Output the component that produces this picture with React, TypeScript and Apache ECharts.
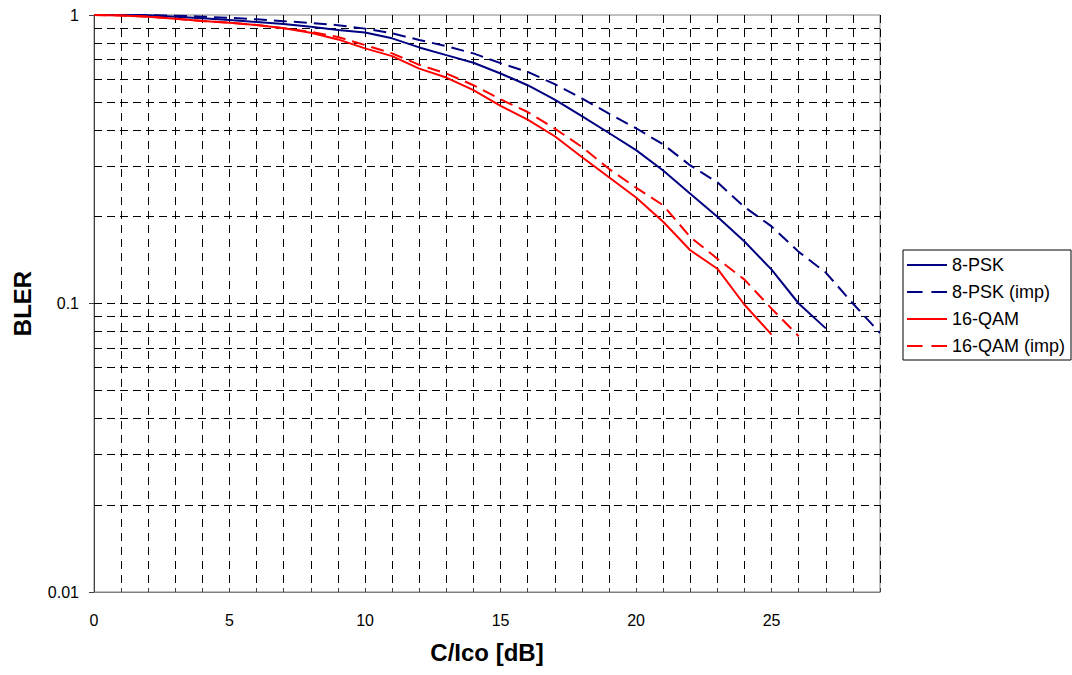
import React, { useEffect, useRef } from "react";
import * as echarts from "echarts";

const xValues = [0, 1, 2, 3, 4, 5, 6, 7, 8, 9, 10, 11, 12, 13, 14, 15, 16, 17, 18, 19, 20, 21, 22, 23, 24, 25, 26, 27, 28, 29];

const psk8 = [1.0, 1.0, 0.998, 0.987, 0.974, 0.961, 0.946, 0.93, 0.911, 0.887, 0.87, 0.83, 0.772, 0.726, 0.683, 0.627, 0.571, 0.509, 0.446, 0.39, 0.34, 0.289, 0.24, 0.2, 0.164, 0.131, 0.1, 0.082];
const psk8Imp = [1.0, 1.0, 1.0, 0.995, 0.987, 0.978, 0.966, 0.952, 0.938, 0.922, 0.897, 0.864, 0.819, 0.78, 0.736, 0.681, 0.635, 0.576, 0.514, 0.455, 0.405, 0.356, 0.301, 0.263, 0.216, 0.185, 0.151, 0.128, 0.1, 0.079];
const qam16 = [1.0, 0.997, 0.987, 0.971, 0.953, 0.94, 0.923, 0.899, 0.868, 0.823, 0.766, 0.72, 0.652, 0.607, 0.549, 0.484, 0.434, 0.38, 0.322, 0.274, 0.233, 0.192, 0.153, 0.132, 0.099, 0.078];
const qam16Imp = [1.0, 0.997, 0.987, 0.971, 0.953, 0.94, 0.923, 0.9, 0.875, 0.839, 0.787, 0.736, 0.672, 0.627, 0.571, 0.51, 0.461, 0.404, 0.349, 0.293, 0.252, 0.219, 0.17, 0.143, 0.121, 0.096, 0.077];

const seriesNames = ["8-PSK", "8-PSK (imp)", "16-QAM", "16-QAM (imp)"];
const seriesColors = ["#000080", "#000080", "#FF0000", "#FF0000"];
const seriesDashed = [false, true, false, true];
const yGridValues = [0.02, 0.03, 0.04, 0.05, 0.06, 0.07, 0.08, 0.09, 0.1, 0.2, 0.3, 0.4, 0.5, 0.6, 0.7, 0.8, 0.9];

const FONT = "'Liberation Sans', Arial, sans-serif";
const SOLID_ICON = "path://M0,0h40v2h-40z";
const DASH_ICON = "path://M0,0h14v2h-14zM22,0h14v2h-14z";

function pairs(vals: number[]) {
  return vals.map((v, i) => [xValues[i], v]);
}

export default function App() {
  const ref = useRef<HTMLDivElement>(null);
  useEffect(() => {
    if (!ref.current) return;
    const chart = echarts.init(ref.current, undefined, { renderer: "svg" });
    const allVals = [psk8, psk8Imp, qam16, qam16Imp];
    const curves = seriesNames.map((name, i) => ({
      name,
      type: "line",
      data: pairs(allVals[i]),
      symbol: "none",
      z: 5,
      lineStyle: { color: seriesColors[i], width: 2, type: seriesDashed[i] ? [13, 7] : "solid" },
      itemStyle: { color: seriesColors[i] },
    }));
    chart.setOption({
      animation: false,
      textStyle: { fontFamily: FONT },
      grid: {
        left: 94,
        top: 15,
        right: 192,
        bottom: 83,
        show: true,
        borderColor: "#808080",
        borderWidth: 1,
      },
      legend: {
        data: seriesNames.map((name, i) => ({
          name,
          icon: seriesDashed[i] ? DASH_ICON : SOLID_ICON,
          itemStyle: { color: seriesColors[i], borderWidth: 0 },
        })),
        orient: "vertical",
        left: 903,
        top: 250,
        itemWidth: 40,
        itemHeight: 18,
        itemGap: 9,
        symbolKeepAspect: true,
        padding: [6, 6, 5, 4],
        borderColor: "#000",
        borderWidth: 1,
        textStyle: { fontSize: 18, color: "#000", fontFamily: FONT },
      },
      xAxis: {
        type: "value",
        min: 0,
        max: 29,
        interval: 1,
        name: "C/Ico [dB]",
        nameLocation: "middle",
        nameGap: 48,
        nameTextStyle: { fontSize: 24, fontWeight: "bold", color: "#000", fontFamily: FONT },
        axisLine: { show: true, lineStyle: { color: "#808080" } },
        axisTick: { show: true, inside: true, length: 4, lineStyle: { color: "#404040" } },
        axisLabel: {
          fontSize: 16,
          color: "#000",
          margin: 20,
          fontFamily: FONT,
          formatter: (v: number) => (v % 5 === 0 ? String(v) : ""),
        },
        splitLine: { show: true, lineStyle: { color: "#000", type: [8, 6], width: 1 } },
      },
      yAxis: {
        type: "log",
        logBase: 10,
        min: 0.01,
        max: 1,
        name: "BLER",
        nameLocation: "middle",
        nameGap: 60,
        nameTextStyle: { fontSize: 24, fontWeight: "bold", color: "#000", fontFamily: FONT },
        axisLine: { show: true, lineStyle: { color: "#404040" } },
        axisTick: { show: true, length: 5, lineStyle: { color: "#404040" } },
        axisLabel: { fontSize: 16, color: "#000", margin: 15, fontFamily: FONT },
        splitLine: { show: false },
      },
      series: [
        {
          name: "grid",
          type: "line",
          data: [],
          silent: true,
          z: 1,
          markLine: {
            silent: true,
            symbol: ["none", "none"],
            label: { show: false },
            lineStyle: { color: "#000", type: [8, 5], width: 1 },
            data: yGridValues.map((v) => ({ yAxis: v })),
          },
        },
        ...curves,
      ],
    });
    return () => chart.dispose();
  }, []);
  return (
    <div
      ref={ref}
      style={{ position: "absolute", left: 0, top: 0, width: 1072, height: 675, background: "#fff" }}
    />
  );
}
